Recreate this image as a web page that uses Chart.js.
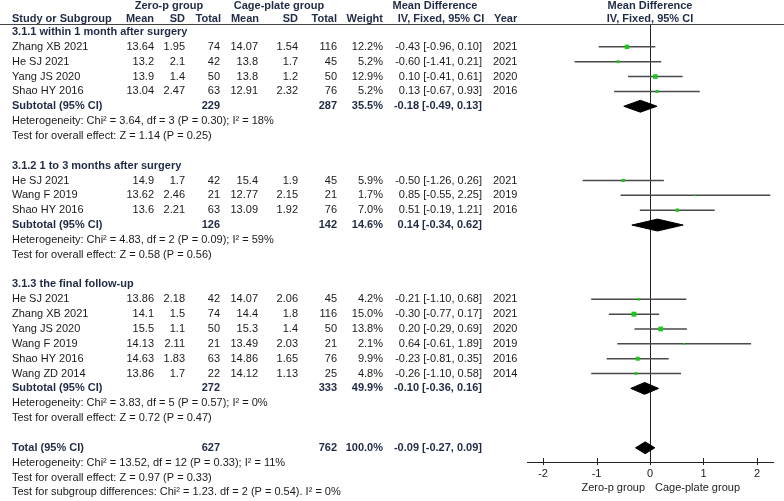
<!DOCTYPE html>
<html>
<head>
<meta charset="utf-8">
<script src="https://cdn.jsdelivr.net/npm/chart.js@4.4.1/dist/chart.umd.min.js"></script>
<style>
  html, body { margin: 0; padding: 0; background: #fff; }
  canvas { display: block; }
</style>
</head>
<body>
<canvas id="forest" width="784" height="501"></canvas>
<script>
// Study rows (row index = line of the table)
const studyNames = ['Zhang XB 2021', 'He SJ 2021', 'Yang JS 2020', 'Shao HY 2016',
  'He SJ 2021', 'Wang F 2019', 'Shao HY 2016',
  'He SJ 2021', 'Zhang XB 2021', 'Yang JS 2020', 'Wang F 2019', 'Shao HY 2016', 'Wang ZD 2014'];
const studyRows = [1, 2, 3, 4, 10, 11, 12, 18, 19, 20, 21, 22, 23];
const zeroMean = [13.64, 13.2, 13.9, 13.04, 14.9, 13.62, 13.6, 13.86, 14.1, 15.5, 14.13, 14.63, 13.86];
const zeroSD = [1.95, 2.1, 1.4, 2.47, 1.7, 2.46, 2.21, 2.18, 1.5, 1.1, 2.11, 1.83, 1.7];
const zeroTotal = [74, 42, 50, 63, 42, 21, 63, 42, 74, 50, 21, 63, 22];
const cageMean = [14.07, 13.8, 13.8, 12.91, 15.4, 12.77, 13.09, 14.07, 14.4, 15.3, 13.49, 14.86, 14.12];
const cageSD = [1.54, 1.7, 1.2, 2.32, 1.9, 2.15, 1.92, 2.06, 1.8, 1.4, 2.03, 1.65, 1.13];
const cageTotal = [116, 45, 50, 76, 45, 21, 76, 45, 116, 50, 21, 76, 25];
const weights = [12.2, 5.2, 12.9, 5.2, 5.9, 1.7, 7.0, 4.2, 15.0, 13.8, 2.1, 9.9, 4.8];
const meanDiff = [-0.43, -0.60, 0.10, 0.13, -0.50, 0.85, 0.51, -0.21, -0.30, 0.20, 0.64, -0.23, -0.26];
const ciLow = [-0.96, -1.41, -0.41, -0.67, -1.26, -0.55, -0.19, -1.10, -0.77, -0.29, -0.61, -0.81, -1.10];
const ciHigh = [0.10, 0.21, 0.61, 0.93, 0.26, 2.25, 1.21, 0.68, 0.17, 0.69, 1.89, 0.35, 0.58];
const years = [2021, 2021, 2020, 2016, 2021, 2019, 2016, 2021, 2021, 2020, 2019, 2016, 2014];

// Subtotals and total
const sumLabels = ['Subtotal (95% CI)', 'Subtotal (95% CI)', 'Subtotal (95% CI)', 'Total (95% CI)'];
const sumRows = [5, 13, 24, 28];
const sumZeroTotal = [229, 126, 272, 627];
const sumCageTotal = [287, 142, 333, 762];
const sumWeight = [35.5, 14.6, 49.9, 100.0];
const sumMd = [-0.18, 0.14, -0.10, -0.09];
const sumLow = [-0.49, -0.34, -0.36, -0.27];
const sumHigh = [0.13, 0.62, 0.16, 0.09];

// Subgroup headings
const sectionLabels = ['3.1.1 within 1 month after surgery', '3.1.2 1 to 3 months after surgery', '3.1.3 the final follow-up'];
const sectionRows = [0, 9, 17];

// Heterogeneity / test lines
const noteRows = [6, 7, 14, 15, 25, 26, 29, 30, 31];
const noteTexts = [
  'Heterogeneity: Chi\u00b2 = 3.64, df = 3 (P = 0.30); I\u00b2 = 18%',
  'Test for overall effect: Z = 1.14 (P = 0.25)',
  'Heterogeneity: Chi\u00b2 = 4.83, df = 2 (P = 0.09); I\u00b2 = 59%',
  'Test for overall effect: Z = 0.58 (P = 0.56)',
  'Heterogeneity: Chi\u00b2 = 3.83, df = 5 (P = 0.57); I\u00b2 = 0%',
  'Test for overall effect: Z = 0.72 (P = 0.47)',
  'Heterogeneity: Chi\u00b2 = 13.52, df = 12 (P = 0.33); I\u00b2 = 11%',
  'Test for overall effect: Z = 0.97 (P = 0.33)',
  'Test for subgroup differences: Chi\u00b2 = 1.23. df = 2 (P = 0.54). I\u00b2 = 0%'
];

const xTicks = [-2, -1, 0, 1, 2];
const leftLabel = 'Zero-p group';
const rightLabel = 'Cage-plate group';

const FONT = '"Liberation Sans", Arial, sans-serif';
const TEXT = '#1a1a1a';
const BOLD = '#1f2b45';

function fmtCI(m, lo, hi) {
  return m.toFixed(2) + ' [' + lo.toFixed(2) + ', ' + hi.toFixed(2) + ']';
}

// Draws the table text, header line and axis decorations
const forestTable = {
  id: 'forestTable',
  afterDraw(chart) {
    const ctx = chart.ctx;
    const ys = chart.scales.y;
    const xs = chart.scales.x;
    const area = chart.chartArea;
    const rowY = r => ys.getPixelForValue(r);

    function text(str, px, py, align, bold) {
      ctx.font = (bold ? 'bold ' : '') + '11px ' + FONT;
      ctx.fillStyle = bold ? BOLD : TEXT;
      ctx.textAlign = align;
      ctx.textBaseline = 'middle';
      ctx.fillText(String(str), px, py);
    }

    ctx.save();

    // column headers
    const h1 = area.top - 19, h2 = area.top - 6;
    text('Zero-p group', 169, h1, 'center', true);
    text('Cage-plate group', 279, h1, 'center', true);
    text('Mean Difference', 435, h1, 'center', true);
    text('Mean Difference', xs.getPixelForValue(0), h1, 'center', true);
    text('Study or Subgroup', 12, h2, 'left', true);
    text('Mean', 154, h2, 'right', true);
    text('SD', 185, h2, 'right', true);
    text('Total', 221, h2, 'right', true);
    text('Mean', 259, h2, 'right', true);
    text('SD', 298, h2, 'right', true);
    text('Total', 337, h2, 'right', true);
    text('Weight', 383, h2, 'right', true);
    text('IV, Fixed, 95% CI', 441, h2, 'center', true);
    text('Year', 494, h2, 'left', true);
    text('IV, Fixed, 95% CI', xs.getPixelForValue(0), h2, 'center', true);

    ctx.strokeStyle = '#444';
    ctx.lineWidth = 1;
    ctx.beginPath();
    ctx.moveTo(0, area.top - 0.5);
    ctx.lineTo(chart.width, area.top - 0.5);
    ctx.stroke();

    sectionLabels.forEach((s, i) => text(s, 12, rowY(sectionRows[i]), 'left', true));

    studyNames.forEach((name, i) => {
      const py = rowY(studyRows[i]);
      text(name, 12, py, 'left', false);
      text(zeroMean[i], 154, py, 'right', false);
      text(zeroSD[i], 185, py, 'right', false);
      text(zeroTotal[i], 220, py, 'right', false);
      text(cageMean[i], 258, py, 'right', false);
      text(cageSD[i], 298, py, 'right', false);
      text(cageTotal[i], 337, py, 'right', false);
      text(weights[i].toFixed(1) + '%', 383, py, 'right', false);
      text(fmtCI(meanDiff[i], ciLow[i], ciHigh[i]), 482, py, 'right', false);
      text(years[i], 493, py, 'left', false);
    });

    sumLabels.forEach((s, i) => {
      const py = rowY(sumRows[i]);
      text(s, 12, py, 'left', true);
      text(sumZeroTotal[i], 220, py, 'right', true);
      text(sumCageTotal[i], 337, py, 'right', true);
      text(sumWeight[i].toFixed(1) + '%', 383, py, 'right', true);
      text(fmtCI(sumMd[i], sumLow[i], sumHigh[i]), 482, py, 'right', true);
    });

    noteTexts.forEach((s, i) => text(s, 12, rowY(noteRows[i]), 'left', false));

    // tick marks crossing the axis line
    ctx.strokeStyle = '#222';
    ctx.beginPath();
    xTicks.forEach(v => {
      const px = Math.round(xs.getPixelForValue(v)) + 0.5;
      ctx.moveTo(px, area.bottom - 4);
      ctx.lineTo(px, area.bottom + 3);
    });
    ctx.stroke();

    const zx = xs.getPixelForValue(0);
    text(leftLabel, zx - 5, area.bottom + 26, 'right', false);
    text(rightLabel, zx + 5, area.bottom + 26, 'left', false);

    ctx.restore();
  }
};

const datasets = [];

// study point estimates (square size from weight)
datasets.push({
  data: meanDiff.map((m, i) => ({ x: m, y: studyRows[i] })),
  pointStyle: 'rect',
  pointRadius: c => 0.9 * Math.sqrt(weights[c.dataIndex]),
  backgroundColor: '#19c819',
  borderWidth: 0,
  order: 0
});

// confidence intervals
studyRows.forEach((r, i) => {
  datasets.push({
    data: [{ x: ciLow[i], y: r }, { x: ciHigh[i], y: r }],
    showLine: true,
    borderColor: '#4a4a4a',
    borderWidth: 1.5,
    pointRadius: 0,
    order: 2
  });
});

// summary diamonds
sumRows.forEach((r, i) => {
  datasets.push({
    data: [
      { x: sumLow[i], y: r },
      { x: sumMd[i], y: r - 0.4 },
      { x: sumHigh[i], y: r },
      { x: sumMd[i], y: r + 0.4 },
      { x: sumLow[i], y: r }
    ],
    showLine: true,
    fill: 'shape',
    backgroundColor: '#000',
    borderColor: '#000',
    borderWidth: 1,
    pointRadius: 0,
    tension: 0,
    order: 1
  });
});

new Chart(document.getElementById('forest'), {
  type: 'scatter',
  data: { datasets },
  options: {
    responsive: false,
    animation: false,
    events: [],
    layout: { padding: { left: 527, right: 11, top: 25, bottom: 0 } },
    plugins: { legend: { display: false }, tooltip: { enabled: false } },
    scales: {
      x: {
        type: 'linear',
        min: -2.3,
        max: 2.3,
        afterFit: s => { s.height = 39; },
        afterBuildTicks: s => { s.ticks = xTicks.map(v => ({ value: v })); },
        border: { display: true, color: '#222', width: 1 },
        grid: {
          drawTicks: false,
          color: c => (c.tick && c.tick.value === 0 ? '#222' : 'rgba(0,0,0,0)')
        },
        ticks: {
          padding: 5,
          color: TEXT,
          font: { family: FONT, size: 11 },
          maxRotation: 0,
          callback: v => v
        }
      },
      y: {
        type: 'linear',
        display: false,
        reverse: true,
        min: -0.471,
        max: 28.956
      }
    }
  },
  plugins: [forestTable]
});
</script>
</body>
</html>
